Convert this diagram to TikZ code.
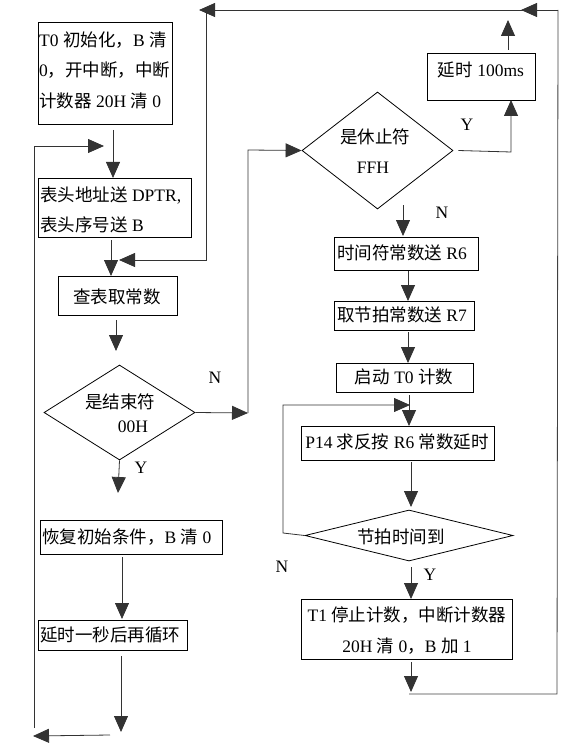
\documentclass[tikz,border=0pt]{standalone}
\usepackage{fontspec}
\setmainfont{Liberation Serif}
\newfontfamily\cjk{Noto Sans CJK SC}
\newcommand\zh[1]{{\cjk #1}}
\usetikzlibrary{shapes.geometric,arrows.meta}
\begin{document}
\begin{tikzpicture}[x=1pt,y=-1pt,
 box/.style={draw,line width=0.8pt,inner sep=0pt},
 dia/.style={draw,diamond,line width=0.8pt,inner sep=0pt},
 txt/.style={inner sep=0pt,font=\fontsize{17.5}{30}\selectfont},
 arr/.style={line width=0.8pt,draw=black!80,-{Triangle[length=16pt,width=14pt]}},
 ln/.style={line width=0.8pt,draw=black!75}]
\useasboundingbox (0,0) rectangle (583,746);
% ---------- left column ----------
\node[box,minimum width=134,minimum height=102] (b1) at (105,73) {};
\node[txt,anchor=west] (b1a) at (39,40) {T0 \zh{初始化，}B \zh{清}};
\node[txt,anchor=west] (b1b) at (39,70) {0\zh{，开中断，中断}};
\node[txt,anchor=west] (b1c) at (39,101) {\zh{计数器} 20H \zh{清} 0};

\node[box,minimum width=153,minimum height=59] (b2) at (114.5,207.5) {};
\node[txt,anchor=west] (b2a) at (40,195) {\zh{表头地址送} DPTR,};
\node[txt,anchor=west] (b2b) at (40,225) {\zh{表头序号送} B};

\node[box,minimum width=119,minimum height=39] (b3) at (117.5,295.5) {};
\node[txt] (b3t) at (117,297) {\zh{查表取常数}};

\node[dia,minimum width=151,minimum height=95] (d1) at (119.5,412.5) {};
\node[txt] (d1a) at (120,402) {\zh{是结束符}};
\node[txt] (d1b) at (133,427) {00H};

\node[box,minimum width=182,minimum height=34] (b4) at (131,537) {};
\node[txt,anchor=west] (b4t) at (42,537) {\zh{恢复初始条件，}B \zh{清} 0};

\node[box,minimum width=149,minimum height=30] (b5) at (112.5,635) {};
\node[txt,anchor=west] (b5t) at (40,635) {\zh{延时一秒后再循环}};

% ---------- right column ----------
\node[box,minimum width=108,minimum height=47] (r0) at (481,76.5) {};
\node[txt] (r0t) at (481,70) {\zh{延时} 100ms};

\node[dia,minimum width=151,minimum height=117] (d2) at (377.5,150.5) {};
\node[txt] (d2a) at (375,137) {\zh{是休止符}};
\node[txt] (d2b) at (373,168) {FFH};

\node[box,minimum width=144,minimum height=33] (r1) at (406,253.5) {};
\node[txt] (r1t) at (402,253) {\zh{时间符常数送} R6};

\node[box,minimum width=140,minimum height=29] (r2) at (404,315.5) {};
\node[txt] (r2t) at (402,315) {\zh{取节拍常数送} R7};

\node[box,minimum width=137,minimum height=29] (r3) at (404.5,377.5) {};
\node[txt] (r3t) at (404,377) {\zh{启动} T0 \zh{计数}};

\node[box,minimum width=193,minimum height=34] (r4) at (397.5,443) {};
\node[txt] (r4t) at (397,442) {P14 \zh{求反按} R6 \zh{常数延时}};

\node[dia,minimum width=208,minimum height=51] (d3) at (409,535.5) {};
\node[txt] (d3t) at (401,537) {\zh{节拍时间到}};

\node[box,minimum width=211,minimum height=60] (r5) at (406.5,629) {};
\node[txt] (r5a) at (407,615) {T1 \zh{停止计数，中断计数器}};
\node[txt] (r5b) at (407,646) {20H \zh{清} 0\zh{，}B \zh{加} 1};

% ---------- labels ----------
\node[txt] (lN1) at (215,378) {N};
\node[txt] (lY1) at (141,468) {Y};
\node[txt] (lY2) at (467,125) {Y};
\node[txt] (lN2) at (442,213) {N};
\node[txt] (lN3) at (282,567) {N};
\node[txt] (lY3) at (430,575) {Y};

% ---------- free-end coordinates ----------
\coordinate (c1a) at (113,130);  \coordinate (c1b) at (113,178);
\coordinate (c2a) at (111,240);  \coordinate (c2b) at (111,276);
\coordinate (c3a) at (116,320);  \coordinate (c3b) at (116,351);
\coordinate (c4b) at (118,493);
\coordinate (c5a) at (122,557);  \coordinate (c5b) at (122,619);
\coordinate (c6a) at (121,656);  \coordinate (c6b) at (121,732);
\coordinate (lbR) at (110,735);  \coordinate (lbL) at (33,736);
\coordinate (lvB) at (34,728);   \coordinate (lvT) at (34,146);
\coordinate (lvE) at (104,146);
\coordinate (nR) at (248,413);   \coordinate (nT) at (248,150);
\coordinate (yA) at (511,152);   \coordinate (yB) at (511,100);
\coordinate (tA) at (508,50);    \coordinate (tB) at (508,20);
\coordinate (TR) at (558,10);    \coordinate (TL) at (199,10);
\coordinate (TC) at (206,10);    \coordinate (TD) at (206,260);
\coordinate (TE) at (119,260);
\coordinate (m1) at (546,10);    \coordinate (m2) at (521,10);
\coordinate (BR) at (557,694);   \coordinate (BL) at (409,694);
\coordinate (e1a) at (403,205);  \coordinate (e1b) at (403,236);
\coordinate (e2a) at (408,271);  \coordinate (e2b) at (408,301);
\coordinate (e3a) at (408,332);  \coordinate (e3b) at (408,363);
\coordinate (e4a) at (409,395);  \coordinate (e4b) at (409,426);
\coordinate (lpA) at (283,533);  \coordinate (lpB) at (283,405);
\coordinate (lpC) at (410,405);
\coordinate (e5a) at (411,462);  \coordinate (e5b) at (411,507);
\coordinate (e6a) at (411,567);  \coordinate (e6b) at (411,599);
\coordinate (e7a) at (411,662);  \coordinate (e7b) at (411,692);

% ---------- connectors ----------
\draw[arr] (c1a) -- (c1b);
\draw[arr] (c2a) -- (c2b);
\draw[arr] (c3a) -- (c3b);
\draw[arr] (d1.south) -- (c4b);
\draw[arr] (c5a) -- (c5b);
\draw[arr] (c6a) -- (c6b);
\draw[arr] (lbR) -- (lbL);
\draw[arr] (lvB) -- (lvT) -- (lvE);
\draw[arr] (d1.east) -- (nR);
\draw[arr] (nR) -- (nT) -- (d2.west);
\draw[arr] ([xshift=5pt]d2.east) -- (yA) -- (yB);
\draw[arr] (tA) -- (tB);
\draw[arr] (TR) -- (TL);
\draw[arr] (m1) -- (m2);
\draw[arr] (TC) -- (TD) -- (TE);
\draw[ln] (BL) -- (BR) -- (TR);
\draw[arr] (e1a) -- (e1b);
\draw[arr] (e2a) -- (e2b);
\draw[arr] (e3a) -- (e3b);
\draw[arr] (e4a) -- (e4b);
\draw[arr] (d3.west) -- (lpA) -- (lpB) -- (lpC);
\draw[arr] (e5a) -- (e5b);
\draw[arr] (e6a) -- (e6b);
\draw[arr] (e7a) -- (e7b);
\end{tikzpicture}
\end{document}
